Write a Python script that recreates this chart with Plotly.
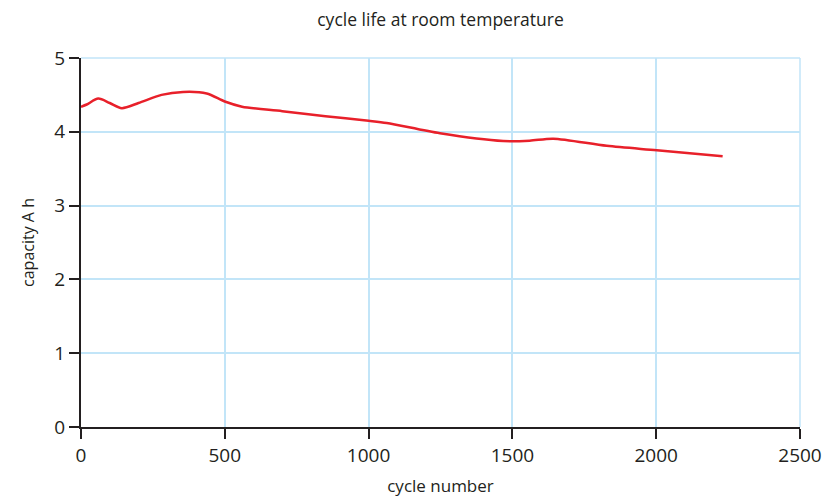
import plotly.graph_objects as go

cycles = [0, 20, 60, 100, 142, 200, 280, 355, 437, 500, 560, 700, 850, 1000, 1063, 1248, 1468, 1560, 1642, 1828, 2002, 2231]
capacity = [4.34, 4.37, 4.45, 4.39, 4.32, 4.39, 4.50, 4.54, 4.52, 4.41, 4.34, 4.28, 4.21, 4.15, 4.12, 3.98, 3.875, 3.88, 3.907, 3.81, 3.75, 3.67]

x_ticks = [0, 500, 1000, 1500, 2000, 2500]
y_ticks = [0, 1, 2, 3, 4, 5]

font_family = "Open Sans, Noto Sans, sans-serif"
ink = "#231f20"
grid = "#c2e5f8"

fig = go.Figure()
fig.add_trace(go.Scatter(
    x=cycles, y=capacity, mode="lines",
    line=dict(color="#e8202a", width=2.5, shape="spline", smoothing=0.8),
    showlegend=False, hoverinfo="skip",
))

axis_common = dict(
    showline=True, linecolor=ink, linewidth=2,
    ticks="outside", ticklen=10, tickwidth=2, tickcolor=ink,
    showgrid=True, gridcolor=grid, gridwidth=1.5,
    zeroline=False, automargin=False,
    tickfont=dict(size=19, color=ink, family=font_family),
)

fig.update_layout(
    width=824, height=502,
    margin=dict(l=81, r=24, t=58, b=75),
    paper_bgcolor="white", plot_bgcolor="white",
    title=dict(text="cycle life at room temperature", x=0.5, xref="paper", xanchor="center",
               y=1 - 20 / 502, yanchor="middle",
               font=dict(size=17.5, color=ink, family=font_family)),
    xaxis=dict(range=[0, 2500], tickvals=x_ticks, ticktext=[str(v) for v in x_ticks],
               title=dict(text="cycle number", font=dict(size=17, color=ink, family=font_family), standoff=13),
               **axis_common),
    yaxis=dict(range=[0, 5], tickvals=y_ticks, ticktext=[str(v) for v in y_ticks],
               title=dict(text="capacity A h", font=dict(size=16, color=ink, family=font_family), standoff=16),
               **axis_common),
    shapes=[
        dict(type="line", xref="paper", yref="paper", x0=0, x1=1, y0=1, y1=1,
             line=dict(color=grid, width=1.5), layer="below"),
        dict(type="line", xref="paper", yref="paper", x0=1, x1=1, y0=0, y1=1,
             line=dict(color=grid, width=1.5), layer="below"),
    ],
)

fig.write_html(
    "out.html",
    config={"displayModeBar": False},
    post_script="document.body.style.margin='0';document.body.style.overflow='hidden';",
)
